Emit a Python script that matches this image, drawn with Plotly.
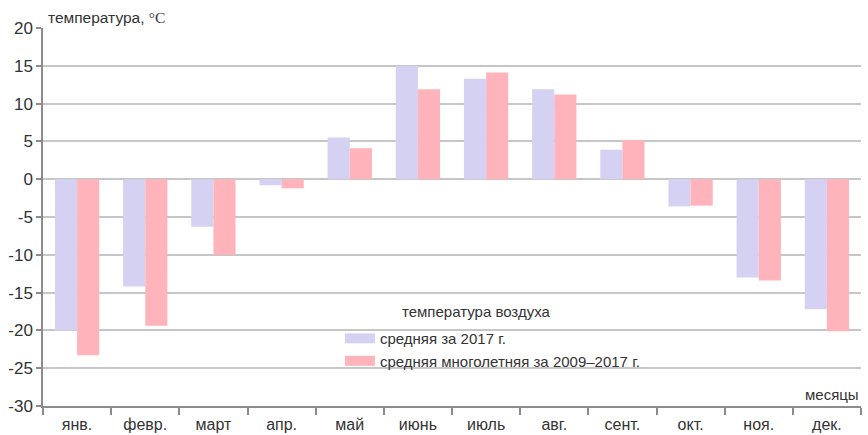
import plotly.graph_objects as go

# Monthly mean air temperature, °C
months = ["янв.", "февр.", "март", "апр.", "май", "июнь",
          "июль", "авг.", "сент.", "окт.", "ноя.", "дек."]
mean_2017 = [-20.0, -14.2, -6.3, -0.8, 5.5, 15.0, 13.3, 11.9, 3.9, -3.6, -13.0, -17.2]
mean_2009_2017 = [-23.3, -19.4, -10.0, -1.2, 4.1, 11.9, 14.1, 11.2, 5.2, -3.5, -13.4, -20.1]

y_ticks = list(range(-30, 25, 5))
y_tick_text = [str(v).replace("\u2212", "-") for v in y_ticks]

series_names = ["средняя за 2017 г.", "средняя многолетняя за 2009–2017 г."]

BLUE = "#d5d1f3"
PINK = "#ffb4bb"
GRID = "#c6c6c6"
AXIS = "#8c8c8c"
TEXT = "#333333"
FONT = "Liberation Sans, Arial, sans-serif"

fig = go.Figure()
for vals, color in ((mean_2017, BLUE), (mean_2009_2017, PINK)):
    fig.add_trace(go.Bar(x=months, y=vals, showlegend=False,
                         marker=dict(color=color, line=dict(width=0))))

# Legend entries drawn as thick line keys (wide rectangular swatches)
for name, color in zip(series_names, (BLUE, PINK)):
    fig.add_trace(go.Scatter(x=[None], y=[None], mode="lines", name=name,
                             line=dict(color=color, width=10)))

fig.update_layout(
    width=868, height=435,
    margin=dict(l=43, r=7, t=28, b=29),
    paper_bgcolor="white", plot_bgcolor="white",
    barmode="group", bargap=0.35, bargroupgap=0,
    font=dict(family=FONT, color=TEXT, size=15),
    showlegend=True,
    legend=dict(
        x=0.363, y=0.222, xanchor="left", yanchor="top",
        bgcolor="rgba(0,0,0,0)", font=dict(size=15, color=TEXT),
        tracegroupgap=0,
    ),
    xaxis=dict(
        type="category", tickson="boundaries", automargin=False,
        showgrid=False, showline=True, linecolor=AXIS, linewidth=1.5,
        ticks="outside", ticklen=7, tickcolor=AXIS, tickwidth=1.5,
        tickfont=dict(size=16, color=TEXT), ticklabelstandoff=3,
    ),
    yaxis=dict(
        range=[-30, 20], tickvals=y_ticks, ticktext=y_tick_text, automargin=False,
        showgrid=True, gridcolor=GRID, gridwidth=1.5,
        zeroline=True, zerolinecolor=GRID, zerolinewidth=1.5,
        showline=True, linecolor=AXIS, linewidth=1.5,
        ticks="outside", ticklen=5, tickcolor=AXIS, tickwidth=1.5,
        tickfont=dict(size=17, color=TEXT),
    ),
    annotations=[
        dict(text="температура, <span style='font-family:Liberation Serif, Times New Roman, serif'>°C</span>",
             xref="paper", yref="paper", x=0.004, y=1.0, xanchor="left", yanchor="bottom",
             showarrow=False, font=dict(size=15.5, color=TEXT)),
        dict(text="месяцы", xref="paper", yref="paper", x=1.0, y=0.0,
             xanchor="right", yanchor="bottom", showarrow=False, yshift=1,
             font=dict(size=15, color=TEXT)),
        dict(text="температура воздуха", xref="paper", yref="paper", x=0.53, y=0.251,
             xanchor="center", yanchor="middle", showarrow=False,
             font=dict(size=15, color=TEXT)),
    ],
)

fig.write_html("out.html")
